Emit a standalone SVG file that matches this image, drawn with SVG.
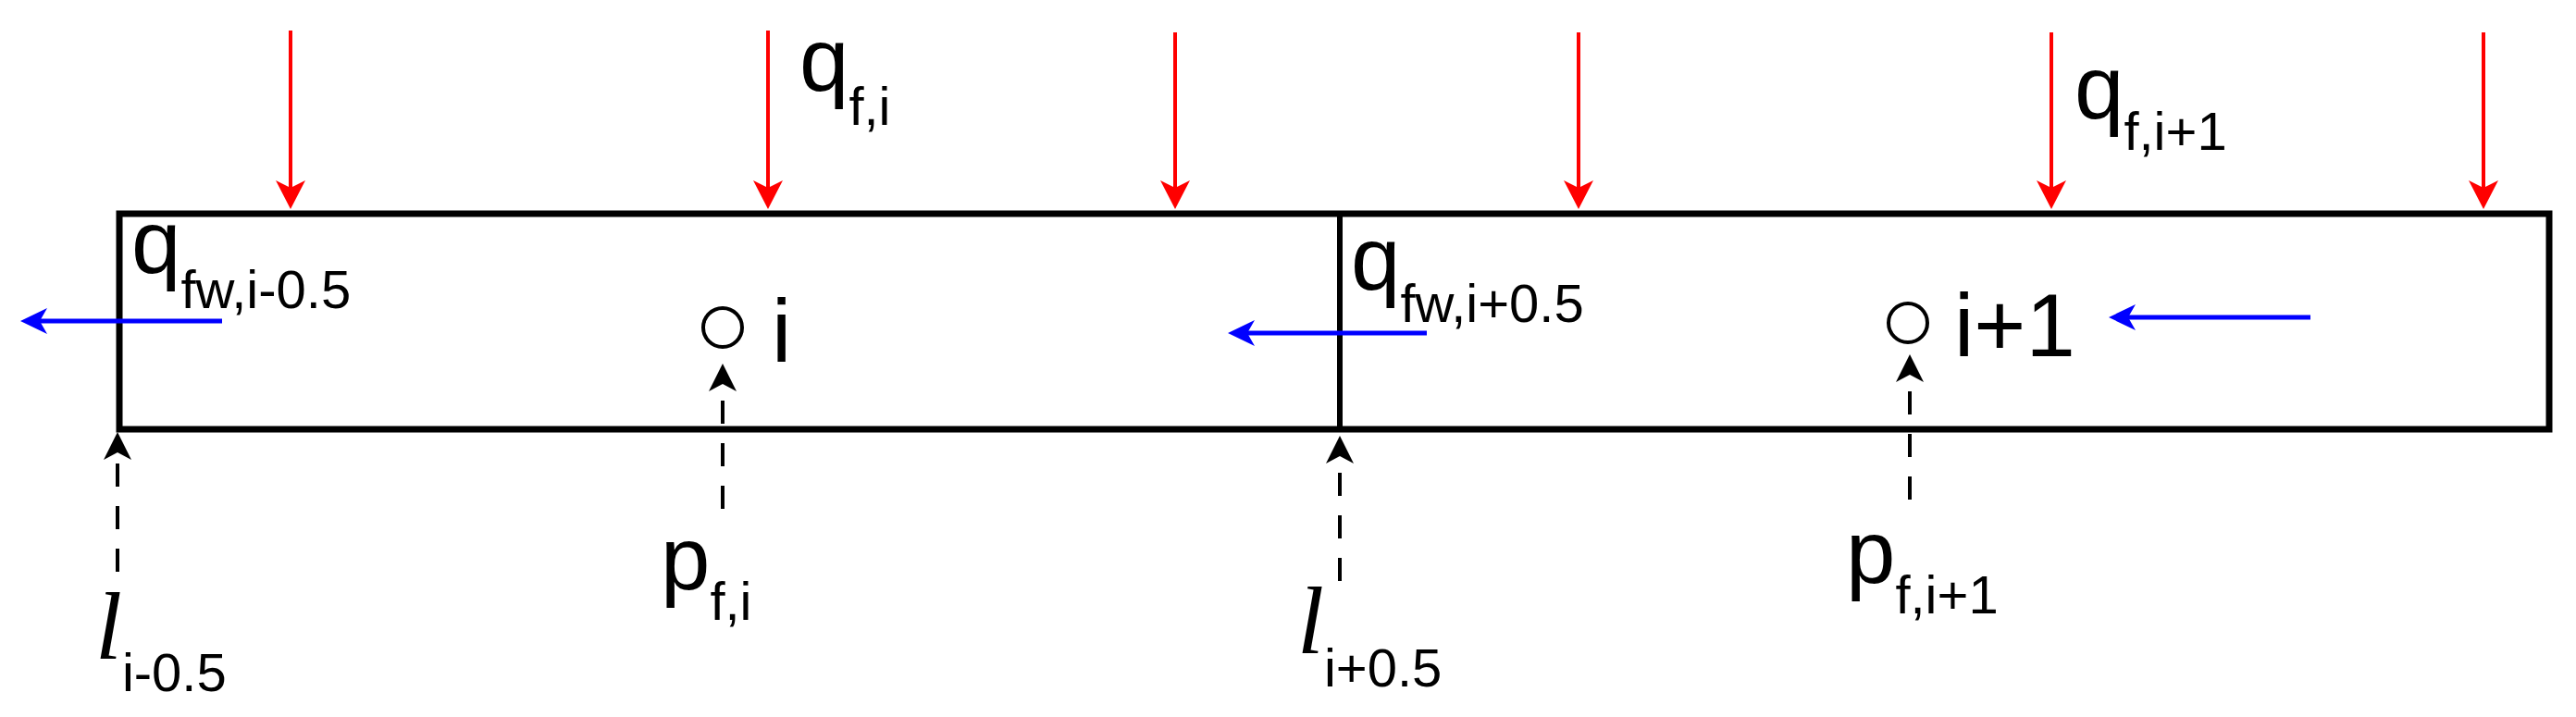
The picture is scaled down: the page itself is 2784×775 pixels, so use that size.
<svg xmlns="http://www.w3.org/2000/svg" width="2784" height="775" viewBox="0 0 2784 775">
<style>
.m{font-family:"Liberation Sans",Arial,sans-serif;font-size:96px;fill:#000}
.s{font-size:58px}
.l{font-family:"Liberation Serif","Times New Roman",serif;font-style:italic;font-size:104px;fill:#000}
.red{stroke:#ff0000;stroke-width:4;fill:none}
.blue{stroke:#0000ff;stroke-width:5;fill:none}
.dash{stroke:#000;stroke-width:4;fill:none;stroke-dasharray:25 21}
.box{stroke:#000;stroke-width:7;fill:#fff}
</style>
<defs>
<path id="redHead" d="M0,0 L-16,-31 L0,-23 L16,-31 Z" fill="#ff0000"/>
<path id="blueHead" d="M0,0 L29,-14 L21,0 L29,14 Z" fill="#0000ff"/>
<path id="blackHead" d="M0,0 L-15,30 L0,22 L15,30 Z" fill="#000"/>
</defs>
<rect width="2784" height="775" fill="#fff"/>

<g id="cells">
<rect class="box" x="129" y="231" width="2626" height="233"/>
<line x1="1448" y1="231" x2="1448" y2="464" stroke="#000" stroke-width="6"/>
</g>

<g id="connectors">
<g id="red-arrows">
<line class="red" x1="314" y1="33" x2="314" y2="210"/><use href="#redHead" transform="translate(314,226)"/>
<line class="red" x1="830" y1="33" x2="830" y2="210"/><use href="#redHead" transform="translate(830,226)"/>
<line class="red" x1="1270" y1="35" x2="1270" y2="210"/><use href="#redHead" transform="translate(1270,226)"/>
<line class="red" x1="1706" y1="35" x2="1706" y2="210"/><use href="#redHead" transform="translate(1706,226)"/>
<line class="red" x1="2217" y1="35" x2="2217" y2="210"/><use href="#redHead" transform="translate(2217,226)"/>
<line class="red" x1="2684" y1="35" x2="2684" y2="210"/><use href="#redHead" transform="translate(2684,226)"/>
</g>
<g id="blue-arrows">
<line class="blue" x1="240" y1="347" x2="38" y2="347"/><use href="#blueHead" transform="translate(22,347)"/>
<line class="blue" x1="1542" y1="360" x2="1343" y2="360"/><use href="#blueHead" transform="translate(1327,360)"/>
<line class="blue" x1="2497" y1="343" x2="2295" y2="343"/><use href="#blueHead" transform="translate(2279,343)"/>
</g>
<g id="dashed-arrows">
<line class="dash" x1="127" y1="618" x2="127" y2="500"/><use href="#blackHead" transform="translate(127,467)"/>
<line class="dash" x1="781" y1="550" x2="781" y2="432"/><use href="#blackHead" transform="translate(781,393)"/>
<line class="dash" x1="1448" y1="628" x2="1448" y2="510"/><use href="#blackHead" transform="translate(1448,471)"/>
<line class="dash" x1="2064" y1="540" x2="2064" y2="422"/><use href="#blackHead" transform="translate(2064,383)"/>
</g>
</g>

<g id="node-i">
<circle cx="781" cy="354" r="21" fill="none" stroke="#000" stroke-width="4"/>
<text class="m" x="834" y="391">i</text>
</g>
<g id="node-i1">
<circle cx="2062" cy="349" r="21" fill="none" stroke="#000" stroke-width="4"/>
<text class="m" x="2112" y="385">i+1</text>
</g>

<g id="labels">
<text class="m" x="864" y="98">q<tspan class="s" dy="37">f,i</tspan></text>
<text class="m" x="2242" y="128">q<tspan class="s" dy="34">f,i+1</tspan></text>
<text class="m" x="142" y="295">q<tspan class="s" dy="38">fw,i-0.5</tspan></text>
<text class="m" x="1460" y="313">q<tspan class="s" dy="35">fw,i+0.5</tspan></text>
<text class="m" x="714" y="637">p<tspan class="s" dy="33">f,i</tspan></text>
<text class="m" x="1995" y="630">p<tspan class="s" dy="33">f,i+1</tspan></text>
<text class="l" x="103" y="712">l<tspan class="m s" font-style="normal" dy="35">i-0.5</tspan></text>
<text class="l" x="1402" y="706">l<tspan class="m s" font-style="normal" dy="36">i+0.5</tspan></text>
</g>
</svg>
